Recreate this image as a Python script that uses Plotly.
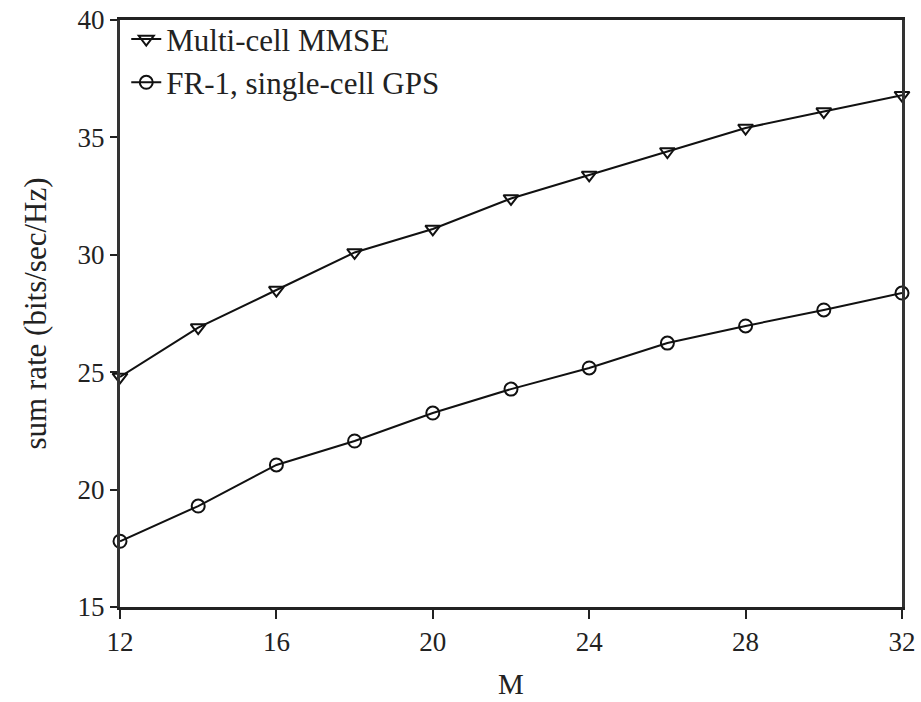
import plotly.graph_objects as go

M = [12, 14, 16, 18, 20, 22, 24, 26, 28, 30, 32]
multi_cell_mmse = [24.8, 26.9, 28.5, 30.1, 31.1, 32.4, 33.4, 34.4, 35.4, 36.1, 36.8]
fr1_single_gps = [17.8, 19.3, 21.05, 22.07, 23.26, 24.28, 25.18, 26.24, 26.97, 27.65, 28.37]

font_family = "Liberation Serif, Times New Roman, serif"

fig = go.Figure()
fig.add_trace(go.Scatter(
    x=M, y=multi_cell_mmse, mode="lines+markers", name="Multi-cell MMSE",
    line=dict(color="#111", width=2),
    marker=dict(symbol="triangle-down-open", size=13, color="#111", line=dict(width=2)),
    cliponaxis=False,
))
fig.add_trace(go.Scatter(
    x=M, y=fr1_single_gps, mode="lines+markers", name="FR-1, single-cell GPS",
    line=dict(color="#111", width=2),
    marker=dict(symbol="circle-open", size=13, color="#111", line=dict(width=2)),
    cliponaxis=False,
))

fig.update_layout(
    width=921, height=702,
    margin=dict(l=120, r=19, t=20, b=95),
    paper_bgcolor="white", plot_bgcolor="white",
    font=dict(family=font_family, size=28, color="#222"),
    legend=dict(x=0.008, y=1.013, xanchor="left", yanchor="top",
                bgcolor="rgba(255,255,255,0)", borderwidth=0,
                font=dict(size=31), itemwidth=30, tracegroupgap=0),
    xaxis=dict(
        range=[12, 32], tickvals=[12, 16, 20, 24, 28, 32],
        title=dict(text="M", standoff=18, font=dict(size=29)),
        automargin=False,
        showgrid=False, zeroline=False,
        showline=True, linecolor="#222", linewidth=3, mirror=True,
        ticks="outside", ticklen=9, tickwidth=2, tickcolor="#222",
        tickfont=dict(size=27),
    ),
    yaxis=dict(
        range=[15, 40], tickvals=[15, 20, 25, 30, 35, 40],
        title=dict(text="sum rate (bits/sec/Hz)", standoff=22, font=dict(size=31)),
        automargin=False,
        showgrid=False, zeroline=False,
        showline=True, linecolor="#333", linewidth=3, mirror=True,
        ticks="outside", ticklen=7, tickwidth=2, tickcolor="#222",
        tickfont=dict(size=27),
    ),
)

fig.write_html("out.html")
